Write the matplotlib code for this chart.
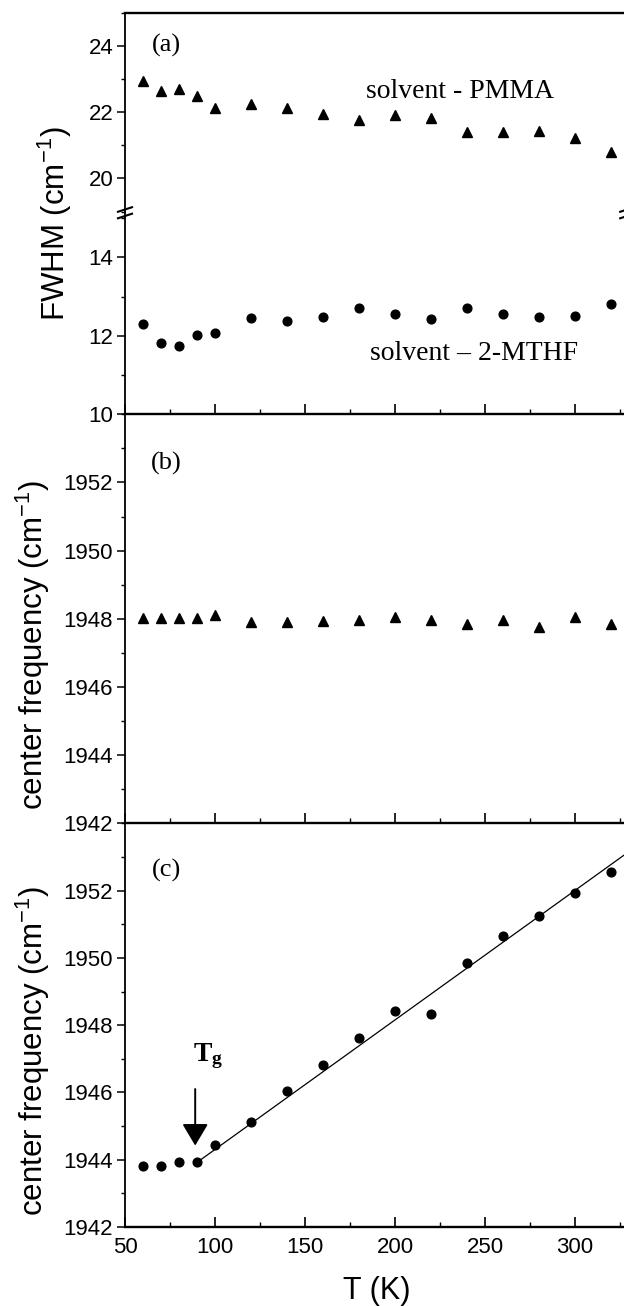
import numpy as np
import matplotlib
matplotlib.use("Agg")
import matplotlib.pyplot as plt
from matplotlib.lines import Line2D
from matplotlib.ticker import MultipleLocator

# ---- data -------------------------------------------------------------
temperature = [60, 70, 80, 90, 100, 120, 140, 160, 180, 200, 220, 240, 260, 280, 300, 320]

fwhm_pmma = [22.94, 22.65, 22.69, 22.49, 22.14, 22.24, 22.14, 21.95,
             21.75, 21.91, 21.83, 21.39, 21.41, 21.43, 21.22, 20.81]
fwhm_mthf = [12.29, 11.82, 11.74, 12.01, 12.07, 12.45, 12.38, 12.48,
             12.70, 12.55, 12.43, 12.72, 12.55, 12.49, 12.51, 12.81]

freq_pmma = [1948.02, 1948.02, 1948.02, 1948.02, 1948.12, 1947.92, 1947.92, 1947.94,
             1947.96, 1948.04, 1947.96, 1947.86, 1947.96, 1947.76, 1948.06, 1947.86]
freq_mthf = [1943.80, 1943.80, 1943.92, 1943.92, 1944.43, 1945.13, 1946.03, 1946.82,
             1947.61, 1948.43, 1948.33, 1949.85, 1950.64, 1951.23, 1951.93, 1952.54]

# linear fit above the glass transition
fit_t0 = 90.0
fit_f0 = 1943.92
fit_slope = 0.0385
t_glass = 89.0

x_ticks = [50, 100, 150, 200, 250, 300]

# ---- style ------------------------------------------------------------
W, H = 624, 1306
SANS = "Liberation Sans"
SERIF = "Liberation Serif"
plt.rcParams["font.family"] = [SANS, "DejaVu Sans"]
plt.rcParams["mathtext.fontset"] = "custom"
plt.rcParams["mathtext.rm"] = SANS
plt.rcParams["mathtext.it"] = SANS + ":italic"
plt.rcParams["mathtext.bf"] = SERIF + ":bold"

fig = plt.figure(figsize=(W / 100, H / 100), dpi=100)

LEFT_PX = 125
XMIN, XMAX = 50, 329
PX_PER_K = 1.8
right_px = LEFT_PX + (XMAX - XMIN) * PX_PER_K


def add_axes(top_px, bottom_px):
    return fig.add_axes([LEFT_PX / W, 1 - bottom_px / H,
                         (right_px - LEFT_PX) / W, (bottom_px - top_px) / H])


ax_a_top = add_axes(12.7, 211.6)
ax_a_bot = add_axes(218.0, 414.3)
ax_b = add_axes(414.3, 823.3)
ax_c = add_axes(823.3, 1227.0)

tick_font = dict(labelsize=16)
for ax in (ax_a_top, ax_a_bot, ax_b, ax_c):
    ax.set_xlim(XMIN, XMAX)
    ax.spines["left"].set_linewidth(1.3)
    ax.spines["bottom"].set_linewidth(1.7)
    ax.spines["top"].set_linewidth(1.7)
    ax.spines["right"].set_linewidth(1.3)
    ax.xaxis.set_major_locator(MultipleLocator(50))
    ax.xaxis.set_minor_locator(MultipleLocator(25))
    ax.tick_params(axis="x", which="major", direction="in", length=7, width=1.2,
                   top=False, bottom=True, labelbottom=False, pad=7, **tick_font)
    ax.tick_params(axis="x", which="minor", direction="in", length=3.5, width=1.0,
                   top=False, bottom=True)
    ax.tick_params(axis="y", which="major", direction="out", length=5.5, width=1.1,
                   right=False, pad=3, **tick_font)
    ax.tick_params(axis="y", which="minor", direction="out", length=3, width=1.0,
                   right=False)
    ax.patch.set_alpha(0)
    for lab in ax.get_xticklabels() + ax.get_yticklabels():
        lab.set_fontfamily(SANS)

# panel (a): broken FWHM axis
ax_a_top.set_ylim(19, 25)
ax_a_top.yaxis.set_minor_locator(MultipleLocator(1))
ax_a_top.set_yticks([20, 22, 24])
ax_a_top.spines["bottom"].set_visible(False)
ax_a_top.tick_params(axis="x", which="both", bottom=False)

ax_a_bot.set_ylim(10, 15)
ax_a_bot.set_yticks([10, 12, 14])
ax_a_bot.yaxis.set_minor_locator(MultipleLocator(1))
ax_a_bot.spines["top"].set_visible(False)

ax_a_top.plot(temperature, fwhm_pmma, ls="none", marker="^", ms=7.5, color="black")
ax_a_bot.plot(temperature, fwhm_mthf, ls="none", marker="o", ms=6.3, color="black")

serif_txt = dict(family=SERIF, fontsize=20, color="black")
ax_a_top.text(72.8, 24.0, "(a)", ha="center", va="center", family=SERIF, fontsize=19)
ax_a_top.text(236, 22.62, "solvent - PMMA", ha="center", va="center", **serif_txt)
ax_a_bot.text(244, 11.55, "solvent \u2013 2-MTHF", ha="center", va="center", **serif_txt)

# panels (b) and (c): centre frequency
for ax in (ax_b, ax_c):
    ax.set_ylim(1942, 1954)
    ax.set_yticks([1942, 1944, 1946, 1948, 1950, 1952])
    ax.yaxis.set_minor_locator(MultipleLocator(1))
    ax.spines["top"].set_visible(False)

ax_b.plot(temperature, freq_pmma, ls="none", marker="^", ms=7.5, color="black")
ax_b.text(72.8, 1952.56, "(b)", ha="center", va="center", family=SERIF, fontsize=19)

ax_c.plot(temperature, freq_mthf, ls="none", marker="o", ms=6.3, color="black")
fit_t = np.array([fit_t0, XMAX + 20])
ax_c.plot(fit_t, fit_f0 + fit_slope * (fit_t - fit_t0), color="black", lw=0.9)
ax_c.text(72.8, 1952.59, "(c)", ha="center", va="center", family=SERIF, fontsize=19)
ax_c.annotate("", xy=(t_glass, 1944.42), xytext=(t_glass, 1946.1),
              arrowprops=dict(arrowstyle="-|>,head_length=0.42,head_width=0.25",
                              mutation_scale=32, lw=1.4, color="black",
                              shrinkA=0, shrinkB=0))
ax_c.text(88.0, 1946.93, r"$\mathbf{T_g}$", ha="left", va="baseline", fontsize=20)

ax_c.set_xticks(x_ticks)
ax_c.tick_params(axis="x", which="major", labelbottom=True)
for lab in ax_c.get_xticklabels():
    lab.set_fontfamily(SANS)

# axis titles
label_kw = dict(family=SANS, fontsize=22.5, rotation=90, ha="center", va="center")
fig.text(55 / W, 1 - 224 / H, "FWHM (cm$^{-1}$)", **label_kw)
fig.text(33 / W, 1 - 645 / H, "center frequency (cm$^{-1}$)", **label_kw)
fig.text(33 / W, 1 - 1051 / H, "center frequency (cm$^{-1}$)", **label_kw)
fig.text(377 / W, 1 - 1291 / H, "T (K)", family=SANS, fontsize=22,
         ha="center", va="center")

# axis-break marks on both vertical spines
def fig_line(x0, y0, x1, y1, lw):
    fig.add_artist(Line2D([x0 / W, x1 / W], [1 - y0 / H, 1 - y1 / H],
                          transform=fig.transFigure, color="black", lw=lw,
                          solid_capstyle="butt"))

for xs in (LEFT_PX, right_px):
    fig_line(xs, 211.6, xs, 218.0, 1.3)
    for yb in (209.5, 216.0):
        fig_line(xs - 8, yb + 2.6, xs + 8, yb - 2.6, 1.5)

fig.savefig("out.png", dpi=100)
